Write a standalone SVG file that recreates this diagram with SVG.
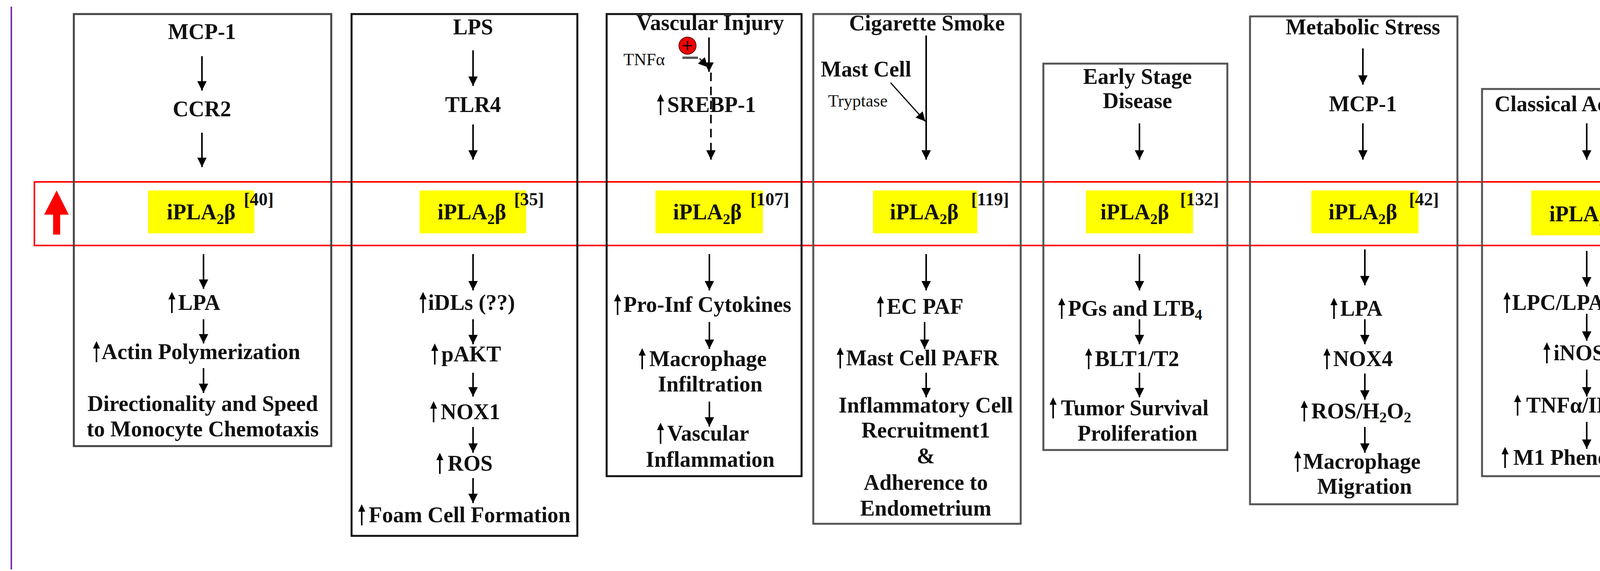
<svg xmlns="http://www.w3.org/2000/svg" xmlns:xlink="http://www.w3.org/1999/xlink" width="4377" height="1463" viewBox="0 0 4377 1463">
<style>
text{font-family:"Liberation Serif","DejaVu Serif",serif;font-weight:bold;font-size:56px;fill:#111;text-anchor:middle}
.s{text-anchor:start}
.sm{font-size:44px;font-weight:normal}
.ref{font-size:46px;text-anchor:start}
.box{fill:none;stroke:#444;stroke-width:5}
.con line,.con path{stroke:#000;stroke-width:4;fill:none}
.y{fill:#ffff00}
</style>
<defs>
<marker id="ah" viewBox="0 0 10 10" refX="10" refY="5" markerUnits="userSpaceOnUse" markerWidth="28" markerHeight="24" orient="auto"><path d="M0,0L10,5L0,10z" fill="#000"/></marker>
<g id="up"><path d="M0,8V-32" stroke="#000" stroke-width="4"/><path d="M-9,-27L0,-46L9,-27z" fill="#000"/></g>
</defs>
<rect width="4377" height="1463" fill="#fff"/>
<line x1="29" y1="17" x2="29" y2="1459" stroke="#7b2fb5" stroke-width="4"/>
<line x1="4334" y1="17" x2="4334" y2="1459" stroke="#7b2fb5" stroke-width="4"/>
<rect x="88" y="466" width="4222" height="163" fill="none" stroke="#f00" stroke-width="4"/>
<path d="M136,601V550H113L145,488L176,550H154V601z" fill="#f00"/>
<g id="yellows">
<rect class="y" x="379" y="488" width="272" height="110"/>
<rect class="y" x="1074" y="488" width="273" height="110"/>
<rect class="y" x="1678" y="488" width="275" height="110"/>
<rect class="y" x="2235" y="488" width="267" height="110"/>
<rect class="y" x="2780" y="488" width="274" height="110"/>
<rect class="y" x="3357" y="488" width="274" height="110"/>
<rect class="y" x="3920" y="488" width="273" height="115"/>
</g>
<g id="node1">
<rect class="box" x="189" y="36" width="659" height="1107"/>
<text x="517" y="100">MCP-1</text>
<text x="517" y="298">CCR2</text>
<text x="515" y="562">iPLA<tspan font-size="38" dy="12">2</tspan><tspan dy="-12">β</tspan></text>
<text class="ref" x="624" y="526">[40]</text>
<use href="#up" x="440" y="794"/><text class="s" x="456" y="794">LPA</text>
<use href="#up" x="247" y="920"/><text class="s" x="260" y="920">Actin Polymerization</text>
<text x="519" y="1053">Directionality and Speed</text>
<text x="519" y="1118">to Monocyte Chemotaxis</text>
</g>
<g id="node2">
<rect class="box" x="900" y="36" width="578" height="1337" style="stroke:#111"/>
<text x="1211" y="88">LPS</text>
<text x="1211" y="287">TLR4</text>
<text x="1208" y="562">iPLA<tspan font-size="38" dy="12">2</tspan><tspan dy="-12">β</tspan></text>
<text class="ref" x="1316" y="526">[35]</text>
<use href="#up" x="1083" y="794"/><text class="s" x="1096" y="794">iDLs (??)</text>
<use href="#up" x="1113" y="926"/><text class="s" x="1130" y="926">pAKT</text>
<use href="#up" x="1110" y="1074"/><text class="s" x="1128" y="1074">NOX1</text>
<use href="#up" x="1126" y="1206"/><text class="s" x="1146" y="1206">ROS</text>
<use href="#up" x="926" y="1338"/><text class="s" x="944" y="1338">Foam Cell Formation</text>
</g>
<g id="node3">
<rect class="box" x="1553" y="36" width="499" height="1184" style="stroke:#111"/>
<text x="1818" y="77">Vascular Injury</text>
<text class="sm s" x="1596" y="167">TNFα</text>
<circle cx="1760" cy="117" r="22" fill="#e00" stroke="#600" stroke-width="2"/>
<path d="M1748,117H1772M1760,105V129" stroke="#000" stroke-width="3"/>
<line x1="1747" y1="148" x2="1787" y2="148" stroke="#555" stroke-width="6"/>
<use href="#up" x="1691" y="287"/><text class="s" x="1708" y="287">SREBP-1</text>
<text x="1811" y="562">iPLA<tspan font-size="38" dy="12">2</tspan><tspan dy="-12">β</tspan></text>
<text class="ref" x="1921" y="526">[107]</text>
<use href="#up" x="1581" y="799"/><text class="s" x="1596" y="799">Pro-Inf Cytokines</text>
<use href="#up" x="1644" y="938"/><text class="s" x="1662" y="938">Macrophage</text>
<text x="1818" y="1003">Infiltration</text>
<use href="#up" x="1691" y="1129"/><text class="s" x="1708" y="1129">Vascular</text>
<text x="1818" y="1196">Inflammation</text>
</g>
<g id="node4">
<rect class="box" x="2082" y="36" width="531" height="1306" style="stroke:#555"/>
<text x="2373" y="78">Cigarette Smoke</text>
<text class="s" x="2101" y="196">Mast Cell</text>
<text class="sm s" x="2120" y="273">Tryptase</text>
<text x="2366" y="562">iPLA<tspan font-size="38" dy="12">2</tspan><tspan dy="-12">β</tspan></text>
<text class="ref" x="2486" y="526">[119]</text>
<use href="#up" x="2254" y="804"/><text class="s" x="2270" y="804">EC PAF</text>
<use href="#up" x="2151" y="936"/><text class="s" x="2166" y="936">Mast Cell PAFR</text>
<text x="2370" y="1057">Inflammatory Cell</text>
<text x="2370" y="1121">Recruitment1</text>
<text x="2370" y="1187">&amp;</text>
<text x="2370" y="1255">Adherence to</text>
<text x="2370" y="1321">Endometrium</text>
</g>
<g id="node5">
<rect class="box" x="2671" y="163" width="471" height="990" style="stroke:#555"/>
<text x="2912" y="215">Early Stage</text>
<text x="2912" y="277">Disease</text>
<text x="2905" y="562">iPLA<tspan font-size="38" dy="12">2</tspan><tspan dy="-12">β</tspan></text>
<text class="ref" x="3021" y="526">[132]</text>
<use href="#up" x="2718" y="809"/><text class="s" x="2734" y="809">PGs and LTB<tspan font-size="38" dy="10">4</tspan></text>
<use href="#up" x="2787" y="938"/><text class="s" x="2803" y="938">BLT1/T2</text>
<use href="#up" x="2696" y="1064"/><text class="s" x="2716" y="1064">Tumor Survival</text>
<text x="2912" y="1129">Proliferation</text>
</g>
<g id="node6">
<rect class="box" x="3200" y="42" width="531" height="1250" style="stroke:#555"/>
<text x="3489" y="88">Metabolic Stress</text>
<text x="3489" y="285">MCP-1</text>
<text x="3489" y="562">iPLA<tspan font-size="38" dy="12">2</tspan><tspan dy="-12">β</tspan></text>
<text class="ref" x="3607" y="526">[42]</text>
<use href="#up" x="3415" y="809"/><text class="s" x="3431" y="809">LPA</text>
<use href="#up" x="3397" y="938"/><text class="s" x="3413" y="938">NOX4</text>
<use href="#up" x="3339" y="1072"/><text class="s" x="3357" y="1072">ROS/H<tspan font-size="38" dy="10">2</tspan><tspan dy="-10">O</tspan><tspan font-size="38" dy="10">2</tspan></text>
<use href="#up" x="3322" y="1201"/><text class="s" x="3336" y="1201">Macrophage</text>
<text x="3493" y="1265">Migration</text>
</g>
<g id="node7">
<rect class="box" x="3794" y="228" width="531" height="992" style="stroke:#555"/>
<text x="4062" y="285">Classical Activation</text>
<text x="4054" y="567">iPLA<tspan font-size="38" dy="12">2</tspan><tspan dy="-12">β</tspan></text>
<text class="ref" x="4164" y="526">[39]</text>
<text class="ref" x="4174" y="593">[141]</text>
<use href="#up" x="3858" y="794"/><text class="s" x="3871" y="794">LPC/LPA/PGE<tspan font-size="38" dy="10">2</tspan></text>
<use href="#up" x="3960" y="923"/><text class="s" x="3977" y="923">iNOS</text>
<use href="#up" x="3885" y="1057"/><text class="s" x="3907" y="1057">TNFα/IL-1β</text>
<use href="#up" x="3853" y="1191"/><text class="s" x="3874" y="1191">M1 Phenotype</text>
</g>
<g id="connectors" class="con">
<line x1="517" y1="144" x2="517" y2="232" marker-end="url(#ah)"/>
<line x1="517" y1="340" x2="517" y2="428" marker-end="url(#ah)"/>
<line x1="521" y1="651" x2="521" y2="740" marker-end="url(#ah)"/>
<line x1="521" y1="818" x2="521" y2="880" marker-end="url(#ah)"/>
<line x1="521" y1="943" x2="521" y2="1007" marker-end="url(#ah)"/>
<line x1="1211" y1="129" x2="1211" y2="220" marker-end="url(#ah)"/>
<line x1="1211" y1="319" x2="1211" y2="409" marker-end="url(#ah)"/>
<line x1="1211" y1="651" x2="1211" y2="744" marker-end="url(#ah)"/>
<line x1="1211" y1="818" x2="1211" y2="882" marker-end="url(#ah)"/>
<line x1="1211" y1="955" x2="1211" y2="1016" marker-end="url(#ah)"/>
<line x1="1211" y1="1094" x2="1211" y2="1160" marker-end="url(#ah)"/>
<line x1="1211" y1="1225" x2="1211" y2="1289" marker-end="url(#ah)"/>
<line x1="1815" y1="96" x2="1815" y2="184" marker-end="url(#ah)"/>
<line x1="1791" y1="150" x2="1812" y2="172" marker-end="url(#ah)" style="stroke-width:3"/>
<line x1="1820" y1="186" x2="1820" y2="409" stroke-dasharray="22 14" marker-end="url(#ah)"/>
<line x1="1816" y1="651" x2="1816" y2="744" marker-end="url(#ah)"/>
<line x1="1816" y1="825" x2="1816" y2="894" marker-end="url(#ah)"/>
<line x1="1816" y1="1029" x2="1816" y2="1093" marker-end="url(#ah)"/>
<line x1="2371" y1="91" x2="2371" y2="409" marker-end="url(#ah)"/>
<line x1="2280" y1="212" x2="2369" y2="311" marker-end="url(#ah)" style="stroke-width:3"/>
<line x1="2371" y1="651" x2="2371" y2="744" marker-end="url(#ah)"/>
<line x1="2367" y1="825" x2="2367" y2="894" marker-end="url(#ah)"/>
<line x1="2371" y1="955" x2="2371" y2="1018" marker-end="url(#ah)"/>
<line x1="2917" y1="316" x2="2917" y2="409" marker-end="url(#ah)"/>
<line x1="2917" y1="651" x2="2917" y2="744" marker-end="url(#ah)"/>
<line x1="2917" y1="818" x2="2917" y2="882" marker-end="url(#ah)"/>
<line x1="2917" y1="955" x2="2917" y2="1018" marker-end="url(#ah)"/>
<line x1="3489" y1="124" x2="3489" y2="217" marker-end="url(#ah)"/>
<line x1="3489" y1="316" x2="3489" y2="409" marker-end="url(#ah)"/>
<line x1="3494" y1="639" x2="3494" y2="731" marker-end="url(#ah)"/>
<line x1="3494" y1="818" x2="3494" y2="882" marker-end="url(#ah)"/>
<line x1="3494" y1="957" x2="3494" y2="1024" marker-end="url(#ah)"/>
<line x1="3494" y1="1094" x2="3494" y2="1160" marker-end="url(#ah)"/>
<line x1="4062" y1="316" x2="4062" y2="409" marker-end="url(#ah)"/>
<line x1="4062" y1="643" x2="4062" y2="734" marker-end="url(#ah)"/>
<line x1="4062" y1="804" x2="4062" y2="873" marker-end="url(#ah)"/>
<line x1="4062" y1="947" x2="4062" y2="1016" marker-end="url(#ah)"/>
<line x1="4062" y1="1081" x2="4062" y2="1150" marker-end="url(#ah)"/>
</g>
</svg>
